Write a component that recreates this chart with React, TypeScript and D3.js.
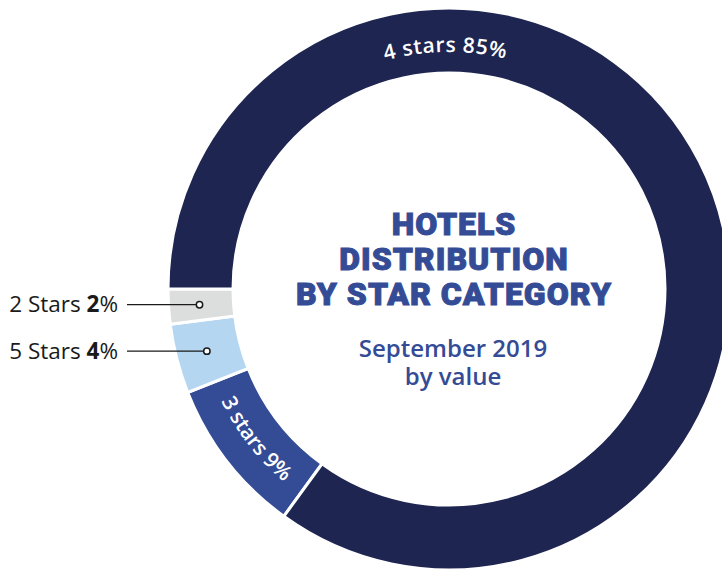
import React from "react";
import * as d3 from "d3";

const categories = ["3 stars", "5 Stars", "2 Stars", "4 stars"];
const values = [9, 4, 2, 85];
const colors = ["#344b96", "#b5d6f1", "#dcdedd", "#1e2551"];
const titleLines = ["HOTELS", "DISTRIBUTION", "BY STAR CATEGORY"];
const subtitleLines = ["September 2019", "by value"];

const W = 722;
const H = 569;
const cx = 449;
const cy = 289;
const R = 281;
const r = 216;

export default function App() {
  const total = d3.sum(values);
  // 4 stars starts at 9 o'clock
  const before = d3.sum(values.slice(0, 3)) / total;
  const start = 1.5 * Math.PI - before * 2 * Math.PI;
  const pie = d3
    .pie<number>()
    .sort(null)
    .value((d) => d)
    .startAngle(start)
    .endAngle(start + 2 * Math.PI);
  const arcs = pie(values);
  const arc = d3.arc<d3.PieArcDatum<number>>().innerRadius(r).outerRadius(R);
  const dotArc = d3.arc<any>().innerRadius(250).outerRadius(250);

  const mid4 = 2 * Math.PI - 0.015; // top
  const rt4 = 237;
  const span4 = 0.6;
  const p4 = d3.path();
  p4.arc(0, 0, rt4, mid4 - span4 - Math.PI / 2, mid4 + span4 - Math.PI / 2, false);

  const a3 = arcs[0];
  const mid3 = (a3.startAngle + a3.endAngle) / 2;
  const rt3 = 254;
  const span3 = 0.5;
  const p3 = d3.path();
  p3.arc(0, 0, rt3, mid3 + span3 - Math.PI / 2, mid3 - span3 - Math.PI / 2, true);

  const fontLabel = "'Open Sans', 'Noto Sans', sans-serif";

  return (
    <svg
      width={W}
      height={H}
      style={{ position: "absolute", left: 0, top: 0, display: "block" }}
    >
      <rect width={W} height={H} fill="#ffffff" />
      <g transform={`translate(${cx},${cy})`}>
        {arcs.map((a, i) => (
          <path key={categories[i]} d={arc(a) || ""} fill={colors[i]} stroke="#ffffff" strokeWidth={3} />
        ))}
        <defs>
          <path id="p4" d={p4.toString()} />
          <path id="p3" d={p3.toString()} />
        </defs>
        <text fill="#ffffff" fontFamily={fontLabel} fontWeight={600} fontSize={21} letterSpacing={0.6}>
          <textPath href="#p4" startOffset="50%" textAnchor="middle">
            {`${categories[3]} ${values[3]}%`}
          </textPath>
        </text>
        <text fill="#ffffff" fontFamily={fontLabel} fontWeight={600} fontSize={21}>
          <textPath href="#p3" startOffset="50%" textAnchor="middle">
            {`${categories[0]} ${values[0]}%`}
          </textPath>
        </text>
        {[1, 2].map((i) => {
          const [x, y] = dotArc.centroid(arcs[i]);
          return (
            <g key={"lab" + i}>
              <line x1={127 - cx} x2={x - 3} y1={y} y2={y} stroke="#1a1a1a" strokeWidth={1.2} />
              <circle cx={x} cy={y} r={3.2} fill="#ffffff" stroke="#1a1a1a" strokeWidth={1.5} />
              <text
                x={118 - cx}
                y={y + 7.5}
                textAnchor="end"
                fontFamily={fontLabel}
                fontSize={22.5}
                fill="#1a1a1a"
              >
                {categories[i] + " "}
                <tspan fontWeight={700}>{values[i]}</tspan>%
              </text>
            </g>
          );
        })}
      </g>
      <g
        fontFamily="Roboto, sans-serif"
        fontWeight={900}
        fill="#344b96"
        stroke="#344b96"
        strokeWidth={1}
        textAnchor="middle"
      >
        {titleLines.map((t, i) => (
          <text key={t} x={454} y={235 + i * 35} fontSize={32} letterSpacing={1}>
            {t}
          </text>
        ))}
      </g>
      <g fontFamily={fontLabel} fontWeight={600} fill="#344b96" textAnchor="middle">
        {subtitleLines.map((t, i) => (
          <text key={t} x={453} y={357 + i * 28} fontSize={24}>
            {t}
          </text>
        ))}
      </g>
    </svg>
  );
}
